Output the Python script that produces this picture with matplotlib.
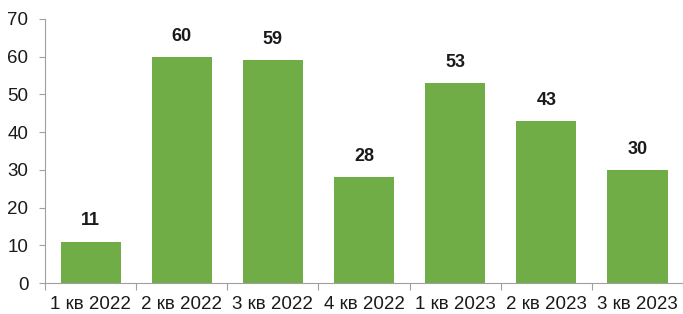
import matplotlib.pyplot as plt
import numpy as np

categories = ["1 кв 2022", "2 кв 2022", "3 кв 2022", "4 кв 2022",
              "1 кв 2023", "2 кв 2023", "3 кв 2023"]
values = [11, 60, 59, 28, 53, 43, 30]

plt.rcParams['font.family'] = ['Liberation Sans', 'DejaVu Sans']

fig = plt.figure(figsize=(6.83, 3.14), dpi=100)
ax = fig.add_axes([0.0659, 0.0987, 0.9341, 0.8408])

x = np.arange(len(categories))
bars = ax.bar(x, values, width=0.66, color="#70AD47")

for xi, v in zip(x, values):
    ax.text(xi, v + 3.2, str(v), ha="center", va="bottom",
            fontsize=13, fontweight="bold", color="#1a1a1a")

ax.set_xlim(-0.5, len(categories) - 0.5)
ax.set_ylim(0, 70)
ax.set_yticks(range(0, 71, 10))

# boundary ticks, labels on the centres
ax.set_xticks(np.arange(-0.5, len(categories), 1.0))
ax.set_xticklabels([])
ax.set_xticks(x, minor=True)
ax.set_xticklabels(categories, minor=True)
ax.tick_params(axis="x", which="minor", length=0, pad=9.5, labelsize=13.5, labelcolor="#1a1a1a")
ax.tick_params(axis="x", which="major", length=5, color="#a0a0a0")
ax.tick_params(axis="y", length=4, color="#a0a0a0", labelsize=13.5, labelcolor="#1a1a1a", pad=8)

for side in ["top", "right"]:
    ax.spines[side].set_visible(False)
for side in ["left", "bottom"]:
    ax.spines[side].set_color("#a0a0a0")

fig.savefig("out.png", dpi=100)
